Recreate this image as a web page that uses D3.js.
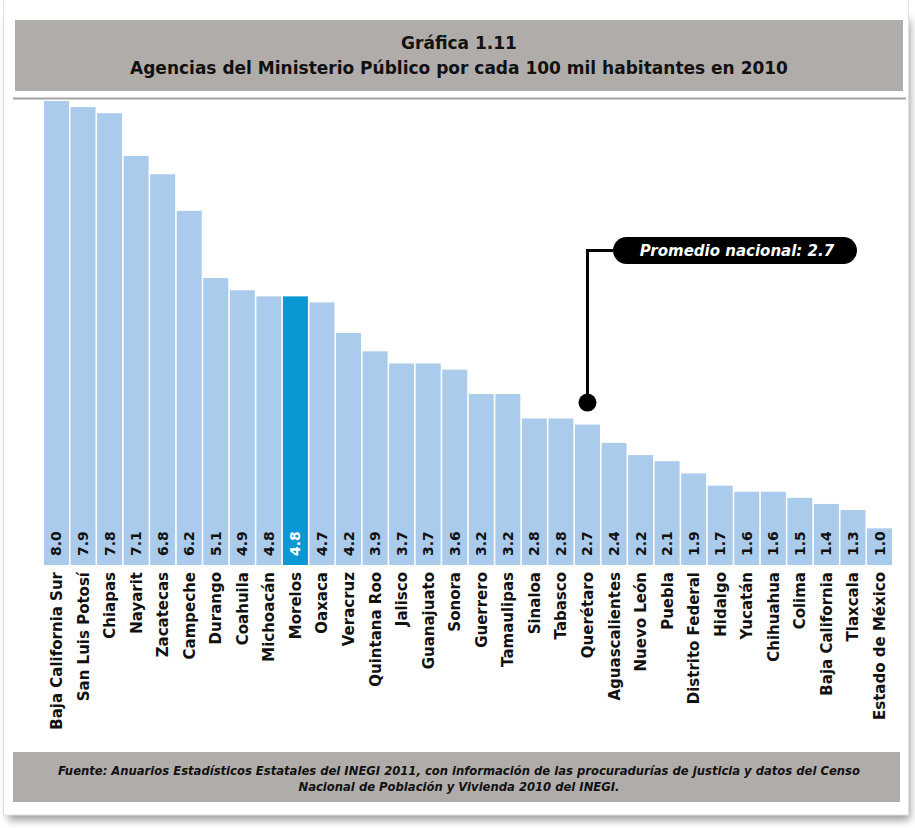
<!DOCTYPE html>
<html>
<head>
<meta charset="utf-8">
<script src="https://cdnjs.cloudflare.com/ajax/libs/d3/7.8.5/d3.min.js"></script>
<style>
  body { margin: 0; background: #fff; }
  svg { display: block; font-family: "DejaVu Sans", sans-serif; }
</style>
</head>
<body>
<script>
'use strict';

// chart data
const states = ["Baja California Sur", "San Luis Potosí", "Chiapas", "Nayarit", "Zacatecas",
  "Campeche", "Durango", "Coahuila", "Michoacán", "Morelos", "Oaxaca", "Veracruz",
  "Quintana Roo", "Jalisco", "Guanajuato", "Sonora", "Guerrero", "Tamaulipas", "Sinaloa",
  "Tabasco", "Querétaro", "Aguascalientes", "Nuevo León", "Puebla", "Distrito Federal",
  "Hidalgo", "Yucatán", "Chihuahua", "Colima", "Baja California", "Tlaxcala", "Estado de México"];
const values = [8.0, 7.9, 7.8, 7.1, 6.8, 6.2, 5.1, 4.9, 4.8, 4.8, 4.7, 4.2, 3.9, 3.7, 3.7, 3.6,
  3.2, 3.2, 2.8, 2.8, 2.7, 2.4, 2.2, 2.1, 1.9, 1.7, 1.6, 1.6, 1.5, 1.4, 1.3, 1.0];
const highlightState = "Morelos";
const nationalAvg = 2.7;
const avgState = "Querétaro";
const titleLines = ["Gráfica 1.11",
  "Agencias del Ministerio Público por cada 100 mil habitantes en 2010"];
const sourceLines = ["Fuente: Anuarios Estadísticos Estatales del INEGI 2011, con información de las procuradurías de justicia y datos del Censo",
  "Nacional de Población y Vivienda 2010 del INEGI."];

const width = 915;
const height = 828;
const baseY = 565;

let svg = d3.select("body").append("svg")
  .attr("width", width)
  .attr("height", height);

// card with soft shadow
let defs = svg.append("defs");
defs.append("filter")
  .attr("id", "shadow")
  .attr("x", "-5%").attr("y", "-5%").attr("width", "110%").attr("height", "110%")
  .append("feGaussianBlur")
  .attr("stdDeviation", 4);

svg.append("rect")
  .attr("x", 8).attr("y", 20)
  .attr("width", 902).attr("height", 800)
  .attr("fill", "#9a9a9a")
  .attr("filter", "url(#shadow)");
svg.append("rect")
  .attr("x", 3.5).attr("y", -5)
  .attr("width", 905).attr("height", 820)
  .attr("fill", "#fff")
  .attr("stroke", "#e0e0e0");

// title box
svg.append("rect")
  .attr("x", 15).attr("y", 20)
  .attr("width", 888).attr("height", 71)
  .attr("fill", "#b0acaa");
svg.selectAll(".title")
  .data(titleLines)
  .enter()
  .append("text")
  .attr("class", "title")
  .attr("x", 459)
  .attr("y", (d, i) => 49 + i * 25)
  .attr("text-anchor", "middle")
  .style("font-size", "17px")
  .style("font-weight", "bold")
  .attr("fill", "#111")
  .text(d => d);

svg.append("line")
  .attr("x1", 13).attr("x2", 906)
  .attr("y1", 98.5).attr("y2", 98.5)
  .attr("stroke", "#a3a3a3")
  .attr("stroke-width", 2);

// scales
let xScale = d3.scaleBand()
  .domain(states)
  .range([44, 892])
  .paddingInner(0.06);

let yScale = d3.scaleLinear()
  .domain([0.4, 8])
  .range([baseY, 101]);

let bw = xScale.bandwidth();
let rows = states.map((s, i) => ({ state: s, value: values[i] }));

// bars
svg.selectAll(".bar")
  .data(rows)
  .enter()
  .append("rect")
  .attr("class", "bar")
  .attr("x", d => xScale(d.state))
  .attr("y", d => yScale(d.value))
  .attr("width", bw)
  .attr("height", d => baseY - yScale(d.value))
  .attr("fill", d => d.state === highlightState ? "#0a98d4" : "#aacbeb");

// value labels inside the bars, rotated
svg.selectAll(".val")
  .data(rows)
  .enter()
  .append("text")
  .attr("class", "val")
  .attr("transform", d => "translate(" + (xScale(d.state) + bw / 2 + 5) + "," + 556 + ")rotate(-90)")
  .style("font-size", "14px")
  .style("font-weight", "bold")
  .attr("fill", d => d.state === highlightState ? "#fff" : "#111")
  .text(d => d3.format(".1f")(d.value));

// state names under the bars
let xAxis = d3.axisBottom(xScale).tickSize(0).tickPadding(0);
let axisG = svg.append("g")
  .attr("transform", "translate(0," + baseY + ")")
  .call(xAxis);
axisG.select(".domain").remove();
axisG.selectAll("text")
  .attr("y", 0)
  .attr("dy", null)
  .attr("text-anchor", "end")
  .attr("transform", "translate(5.5,7)rotate(-90)")
  .style("font-family", "DejaVu Sans, sans-serif")
  .style("font-size", "15px")
  .style("font-weight", "bold")
  .attr("fill", "#111");

// national average callout
let cx = xScale(avgState) + bw / 2;
let cy = yScale(nationalAvg) - 22;
let pill = { x: 613, y: 237, w: 244, h: 27 };

svg.append("path")
  .attr("d", "M" + pill.x + "," + (pill.y + pill.h / 2) + "H" + cx + "V" + cy)
  .attr("fill", "none")
  .attr("stroke", "#000")
  .attr("stroke-width", 3);
svg.append("circle")
  .attr("cx", cx)
  .attr("cy", cy)
  .attr("r", 9)
  .attr("fill", "#000");
svg.append("rect")
  .attr("x", pill.x).attr("y", pill.y)
  .attr("width", pill.w).attr("height", pill.h)
  .attr("rx", 13.5)
  .attr("fill", "#000");
svg.append("text")
  .attr("x", pill.x + pill.w / 2 + 2)
  .attr("y", pill.y + 19)
  .attr("text-anchor", "middle")
  .style("font-size", "15px")
  .style("font-weight", "bold")
  .style("font-style", "italic")
  .attr("fill", "#fff")
  .text("Promedio nacional: " + d3.format(".1f")(nationalAvg));

// source box
svg.append("rect")
  .attr("x", 13).attr("y", 752)
  .attr("width", 887).attr("height", 50)
  .attr("fill", "#b0acaa");
svg.selectAll(".source")
  .data(sourceLines)
  .enter()
  .append("text")
  .attr("class", "source")
  .attr("x", 459)
  .attr("y", (d, i) => 775 + i * 16)
  .attr("text-anchor", "middle")
  .style("font-size", "11.6px")
  .style("font-weight", "bold")
  .style("font-style", "italic")
  .attr("fill", "#111")
  .text(d => d);
</script>
</body>
</html>
